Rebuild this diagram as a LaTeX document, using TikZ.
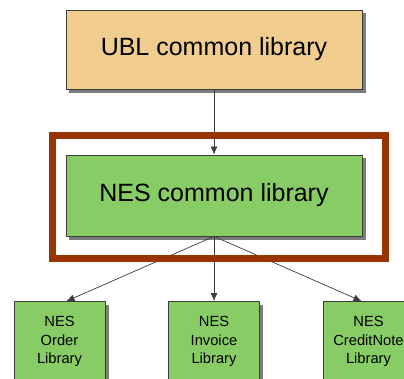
\documentclass[tikz,border=0pt]{standalone}
\usepackage{fontspec}
\setmainfont{Liberation Sans}
\usetikzlibrary{arrows.meta, positioning, backgrounds, calc}
\definecolor{ublsand}{RGB}{240,204,142}
\definecolor{nesgreen}{RGB}{136,204,102}
\definecolor{rust}{RGB}{153,51,0}
\definecolor{edgegray}{RGB}{60,60,60}
\definecolor{shadegray}{RGB}{125,125,125}

\tikzset{
    bigbox/.style={draw=edgegray, line width=0.8pt, align=center, inner sep=0pt,
                   minimum width=296pt, font=\fontsize{25pt}{30pt}\selectfont},
    libbox/.style={draw=edgegray, line width=0.8pt, align=center, inner sep=0pt,
                   fill=nesgreen, minimum width=91pt, minimum height=80pt,
                   font=\fontsize{14.7pt}{18.5pt}\selectfont}
}

\begin{document}
\begin{tikzpicture}[
    x=1pt, y=1pt,
    grow=down,
    level distance=146pt,
    level 2/.style={sibling distance=154.5pt},
    edge from parent/.style={draw=edgegray, line width=0.7pt, -{Latex[length=8pt, width=7pt]}},
    edge from parent path={(\tikzparentnode.south) -- (\tikzchildnode.north)}
]
    \useasboundingbox (0,0) rectangle (404,-379);
    % Shared library hierarchy
    \node[bigbox, fill=ublsand, minimum height=79pt] (ubl) at (214,-49.5) {UBL common library}
        child {node[bigbox, fill=nesgreen, minimum height=81pt] (nes) {NES common library}
            child[edge from parent path={(\tikzparentnode.south) -- ([xshift=7pt]\tikzchildnode.north)}]
                {node[libbox] (order) {NES\\Order\\Library}}
            child {node[libbox] (invoice) {NES\\Invoice\\Library}}
            child[edge from parent path={(\tikzparentnode.south) -- ([xshift=-7pt]\tikzchildnode.north)}]
                {node[libbox] (creditnote) {NES\\CreditNote\\Library}}
        };
    % Drop shadows behind the boxes
    \begin{pgfonlayer}{background}
        \foreach \libname in {ubl, nes, order, invoice, creditnote}
            \fill[shadegray] ([shift={(3.5,-3.5)}]\libname.south west) rectangle ([shift={(3.5,-3.5)}]\libname.north east);
    \end{pgfonlayer}
    % Highlight frame
    \draw[rust, line width=7.5pt] ([xshift=-13pt, yshift=19pt]nes.north west)
        rectangle ([xshift=23pt, yshift=-22pt]nes.south east);
\end{tikzpicture}
\end{document}
